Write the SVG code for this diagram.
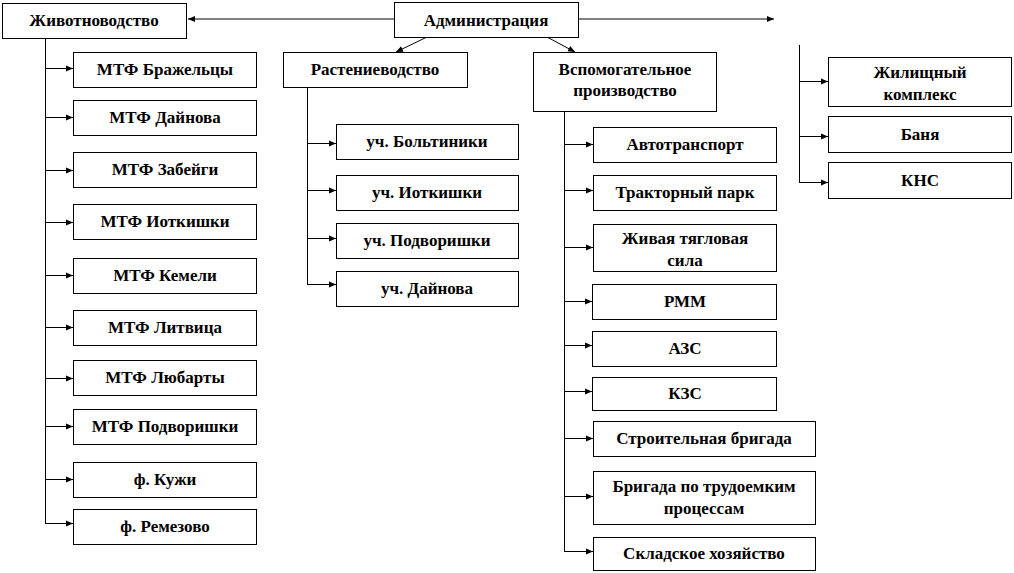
<svg xmlns="http://www.w3.org/2000/svg" width="1014" height="573" viewBox="0 0 1014 573">
<style>
.box{fill:#fff;stroke:#000;stroke-width:1}
.t{font-family:'Liberation Serif','Times New Roman',serif;font-weight:700;font-size:17px;text-anchor:middle;fill:#000}
.c{fill:none;stroke:#000;stroke-width:1}
</style>
<defs>
<marker id="ah" markerWidth="8" markerHeight="8" refX="7" refY="4" orient="auto" markerUnits="userSpaceOnUse">
<path d="M0,1 L7,4 L0,7 z" fill="#000"/>
</marker>
</defs>
<rect width="1014" height="573" fill="#fff"/>
<g id="connectors">
<line class="c" x1="394" y1="19" x2="188" y2="19" marker-end="url(#ah)"/>
<line class="c" x1="578" y1="19" x2="774" y2="19" marker-end="url(#ah)"/>
<line class="c" x1="427" y1="37" x2="396" y2="52" marker-end="url(#ah)"/>
<line class="c" x1="547" y1="37" x2="575" y2="52" marker-end="url(#ah)"/>
<path class="c" d="M45.5,38 V523.5"/>
<line class="c" x1="45" y1="68.5" x2="73" y2="68.5" marker-end="url(#ah)"/>
<line class="c" x1="45" y1="117.5" x2="73" y2="117.5" marker-end="url(#ah)"/>
<line class="c" x1="45" y1="170.5" x2="73" y2="170.5" marker-end="url(#ah)"/>
<line class="c" x1="45" y1="222.5" x2="73" y2="222.5" marker-end="url(#ah)"/>
<line class="c" x1="45" y1="275.5" x2="73" y2="275.5" marker-end="url(#ah)"/>
<line class="c" x1="45" y1="327.5" x2="73" y2="327.5" marker-end="url(#ah)"/>
<line class="c" x1="45" y1="378.5" x2="73" y2="378.5" marker-end="url(#ah)"/>
<line class="c" x1="45" y1="426.5" x2="73" y2="426.5" marker-end="url(#ah)"/>
<line class="c" x1="45" y1="479.5" x2="73" y2="479.5" marker-end="url(#ah)"/>
<line class="c" x1="45" y1="523.5" x2="73" y2="523.5" marker-end="url(#ah)"/>
<path class="c" d="M307.5,87 V284.5"/>
<line class="c" x1="307" y1="143.5" x2="336" y2="143.5" marker-end="url(#ah)"/>
<line class="c" x1="307" y1="190.5" x2="336" y2="190.5" marker-end="url(#ah)"/>
<line class="c" x1="307" y1="238.5" x2="336" y2="238.5" marker-end="url(#ah)"/>
<line class="c" x1="307" y1="284.5" x2="336" y2="284.5" marker-end="url(#ah)"/>
<path class="c" d="M564.5,112 V551.5"/>
<line class="c" x1="564" y1="144.5" x2="593" y2="144.5" marker-end="url(#ah)"/>
<line class="c" x1="564" y1="190.5" x2="593" y2="190.5" marker-end="url(#ah)"/>
<line class="c" x1="564" y1="247.5" x2="593" y2="247.5" marker-end="url(#ah)"/>
<line class="c" x1="564" y1="301.5" x2="592" y2="301.5" marker-end="url(#ah)"/>
<line class="c" x1="564" y1="345.5" x2="592" y2="345.5" marker-end="url(#ah)"/>
<line class="c" x1="564" y1="391.5" x2="592" y2="391.5" marker-end="url(#ah)"/>
<line class="c" x1="564" y1="438.5" x2="593" y2="438.5" marker-end="url(#ah)"/>
<line class="c" x1="564" y1="496.5" x2="593" y2="496.5" marker-end="url(#ah)"/>
<line class="c" x1="564" y1="551.5" x2="593" y2="551.5" marker-end="url(#ah)"/>
<path class="c" d="M799.5,45 V182.5"/>
<line class="c" x1="799" y1="81.5" x2="828" y2="81.5" marker-end="url(#ah)"/>
<line class="c" x1="799" y1="136.5" x2="828" y2="136.5" marker-end="url(#ah)"/>
<line class="c" x1="799" y1="182.5" x2="828" y2="182.5" marker-end="url(#ah)"/>
</g>
<g id="n-admin"><rect class="box" x="394.5" y="2.5" width="184" height="35"/><text class="t" x="486" y="26">Администрация</text></g>
<g id="n-zhiv"><rect class="box" x="2.5" y="3.5" width="184" height="35"/><text class="t" x="94" y="26">Животноводство</text></g>
<g id="n-rast"><rect class="box" x="283.5" y="52.5" width="184" height="35"/><text class="t" x="375" y="75">Растениеводство</text></g>
<g id="n-vsp"><rect class="box" x="533.5" y="52.5" width="183" height="59"/><text class="t" x="625" y="75">Вспомогательное</text><text class="t" x="625" y="96">производство</text></g>
<g id="n-m1"><rect class="box" x="73.5" y="52.5" width="183" height="35"/><text class="t" x="165" y="75">МТФ Бражельцы</text></g>
<g id="n-m2"><rect class="box" x="73.5" y="100.5" width="183" height="35"/><text class="t" x="165" y="123">МТФ Дайнова</text></g>
<g id="n-m3"><rect class="box" x="73.5" y="152.5" width="183" height="35"/><text class="t" x="165" y="175">МТФ Забейги</text></g>
<g id="n-m4"><rect class="box" x="73.5" y="204.5" width="183" height="35"/><text class="t" x="165" y="227">МТФ Иоткишки</text></g>
<g id="n-m5"><rect class="box" x="73.5" y="258.5" width="183" height="35"/><text class="t" x="165" y="281">МТФ Кемели</text></g>
<g id="n-m6"><rect class="box" x="73.5" y="310.5" width="183" height="35"/><text class="t" x="165" y="333">МТФ Литвица</text></g>
<g id="n-m7"><rect class="box" x="73.5" y="360.5" width="183" height="35"/><text class="t" x="165" y="383">МТФ Любарты</text></g>
<g id="n-m8"><rect class="box" x="73.5" y="409.5" width="183" height="35"/><text class="t" x="165" y="432">МТФ Подворишки</text></g>
<g id="n-m9"><rect class="box" x="73.5" y="462.5" width="183" height="35"/><text class="t" x="165" y="485">ф. Кужи</text></g>
<g id="n-m10"><rect class="box" x="73.5" y="509.5" width="183" height="35"/><text class="t" x="165" y="532">ф. Ремезово</text></g>
<g id="n-r1"><rect class="box" x="336.5" y="124.5" width="182" height="35"/><text class="t" x="427" y="147">уч. Больтиники</text></g>
<g id="n-r2"><rect class="box" x="336.5" y="175.5" width="182" height="35"/><text class="t" x="427" y="198">уч. Иоткишки</text></g>
<g id="n-r3"><rect class="box" x="336.5" y="223.5" width="182" height="35"/><text class="t" x="427" y="246">уч. Подворишки</text></g>
<g id="n-r4"><rect class="box" x="336.5" y="271.5" width="182" height="35"/><text class="t" x="427" y="294">уч. Дайнова</text></g>
<g id="n-v1"><rect class="box" x="593.5" y="127.5" width="183" height="35"/><text class="t" x="685" y="150">Автотранспорт</text></g>
<g id="n-v2"><rect class="box" x="593.5" y="175.5" width="183" height="35"/><text class="t" x="685" y="198">Тракторный парк</text></g>
<g id="n-v3"><rect class="box" x="593.5" y="224.5" width="183" height="47"/><text class="t" x="685" y="244">Живая тягловая</text><text class="t" x="685" y="266">сила</text></g>
<g id="n-v4"><rect class="box" x="592.5" y="284.5" width="184" height="35"/><text class="t" x="685" y="307">РММ</text></g>
<g id="n-v5"><rect class="box" x="592.5" y="331.5" width="184" height="35"/><text class="t" x="685" y="354">АЗС</text></g>
<g id="n-v6"><rect class="box" x="592.5" y="377.5" width="184" height="33"/><text class="t" x="685" y="399">КЗС</text></g>
<g id="n-v7"><rect class="box" x="593.5" y="421.5" width="222" height="35"/><text class="t" x="704" y="444">Строительная бригада</text></g>
<g id="n-v8"><rect class="box" x="593.5" y="471.5" width="222" height="53"/><text class="t" x="704" y="492">Бригада по трудоемким</text><text class="t" x="704" y="514">процессам</text></g>
<g id="n-v9"><rect class="box" x="593.5" y="537.5" width="222" height="33"/><text class="t" x="704" y="559">Складское хозяйство</text></g>
<g id="n-k1"><rect class="box" x="828.5" y="57.5" width="183" height="49"/><text class="t" x="920" y="78">Жилищный</text><text class="t" x="920" y="100">комплекс</text></g>
<g id="n-k2"><rect class="box" x="828.5" y="116.5" width="183" height="36"/><text class="t" x="920" y="140">Баня</text></g>
<g id="n-k3"><rect class="box" x="828.5" y="162.5" width="183" height="36"/><text class="t" x="920" y="186">КНС</text></g>
</svg>
